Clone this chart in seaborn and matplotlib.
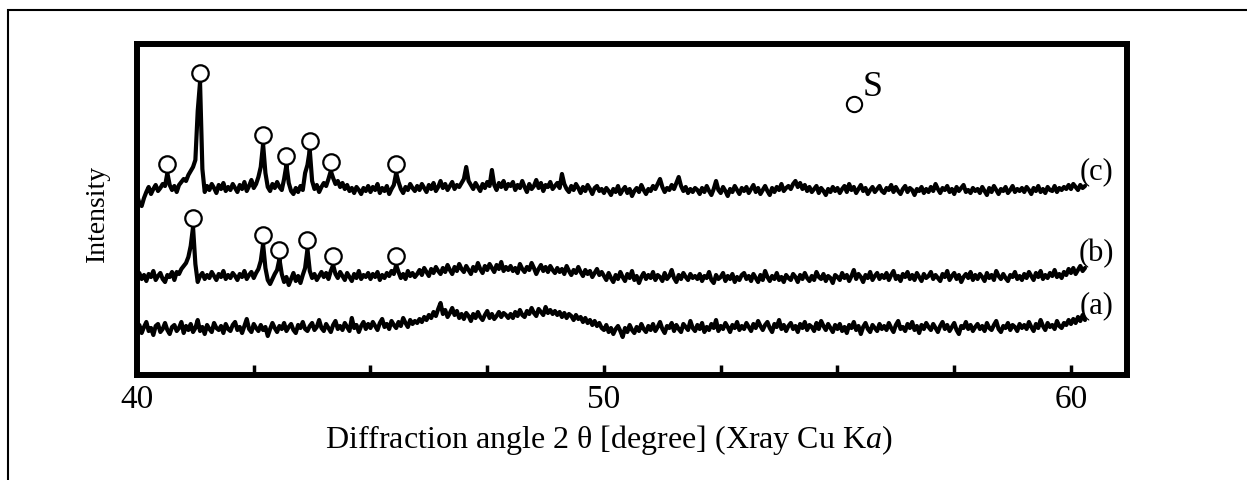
## XRD patterns (a)-(c), 2theta 40-60 deg, Cu Ka

import numpy as np
import pandas as pd
import seaborn as sns
import matplotlib.pyplot as plt
from matplotlib.patches import Rectangle

# scan grid: 40.00 -> 60.30 deg, step 0.05 deg (407 points)
two_theta = np.round(40.0 + 0.05 * np.arange(407), 2)

# intensities (a.u.), one row = 1 degree
intensity_a = [
    45, 50, 42, 48, 53, 44, 47, 40, 49, 51, 43, 46, 52, 45, 41, 48, 50, 44, 47, 53,  # 40
    42, 49, 45, 51, 43, 47, 55, 44, 48, 41, 50, 46, 43, 52, 47, 45, 49, 42, 51, 46,  # 41
    44, 50, 53, 45, 48, 42, 49, 56, 46, 43, 51, 47, 44, 50, 45, 48, 39, 46, 52, 47,  # 42
    43, 49, 46, 52, 44, 48, 51, 45, 42, 50, 47, 53, 46, 44, 49, 52, 45, 48, 55, 47,  # 43
    44, 51, 47, 43, 50, 54, 46, 49, 45, 52, 48, 44, 57, 47, 50, 43, 49, 53, 46, 51,  # 44
    47, 53, 49, 45, 52, 56, 48, 51, 46, 54, 50, 47, 53, 49, 57, 52, 48, 55, 51, 54,  # 45
    52, 56, 53, 58, 55, 60, 57, 63, 59, 66, 72, 61, 65, 58, 62, 67, 60, 64, 57, 61,  # 46
    56, 62, 59, 54, 61, 57, 63, 58, 55, 60, 64, 57, 61, 56, 59, 63, 58, 62, 60, 57,  # 47
    61, 57, 63, 59, 65, 60, 58, 64, 61, 67, 62, 59, 66, 63, 60, 68, 62, 65, 61, 64,  # 48
    60, 63, 58, 62, 57, 61, 59, 55, 60, 56, 58, 53, 57, 52, 55, 50, 54, 49, 52, 47,  # 49
    45, 50, 43, 47, 41, 46, 49, 44, 38, 47, 43, 50, 45, 42, 48, 44, 51, 46, 43, 49,  # 50
    45, 51, 44, 48, 53, 46, 42, 49, 47, 52, 44, 50, 46, 43, 51, 48, 45, 54, 47, 44,  # 51
    50, 46, 52, 43, 48, 45, 51, 47, 55, 44, 49, 46, 52, 48, 43, 50, 47, 53, 45, 49,  # 52
    46, 52, 48, 44, 51, 47, 54, 49, 45, 50, 53, 47, 43, 51, 48, 55, 46, 50, 44, 49,  # 53
    52, 46, 49, 43, 51, 47, 53, 45, 50, 48, 44, 52, 46, 54, 49, 45, 51, 47, 43, 50,  # 54
    46, 51, 44, 48, 42, 50, 47, 53, 45, 49, 41, 48, 52, 46, 43, 50, 47, 44, 51, 46,  # 55
    49, 45, 52, 47, 43, 50, 54, 46, 48, 44, 51, 47, 53, 45, 49, 42, 50, 46, 52, 48,  # 56
    45, 51, 47, 43, 49, 53, 46, 50, 44, 48, 52, 45, 41, 49, 47, 53, 46, 50, 44, 48,  # 57
    51, 46, 49, 44, 52, 47, 45, 50, 54, 46, 43, 49, 47, 52, 45, 50, 48, 44, 51, 47,  # 58
    50, 46, 53, 48, 44, 51, 47, 55, 49, 45, 52, 48, 50, 46, 54, 49, 47, 52, 50, 55,  # 59
    51, 56, 52, 58, 54, 60, 55,                                                      # 60
]

intensity_b = [
    48, 53, 47, 51, 45, 52, 49, 55, 46, 50, 53, 47, 44, 51, 49, 54, 46, 54, 52, 57,  # 40
    60, 63, 69, 80, 99, 62, 44, 50, 53, 47, 51, 48, 54, 50, 46, 52, 49, 55, 47, 51,  # 41
    48, 53, 50, 46, 52, 49, 55, 47, 51, 54, 48, 53, 57, 65, 82, 58, 46, 42, 47, 52,  # 42
    56, 67, 52, 44, 49, 41, 47, 53, 45, 50, 43, 51, 58, 77, 55, 48, 52, 46, 50, 54,  # 43
    49, 53, 47, 55, 61, 52, 48, 54, 50, 46, 53, 49, 45, 52, 48, 55, 47, 51, 49, 53,  # 44
    47, 52, 49, 54, 46, 51, 48, 53, 50, 55, 52, 61, 54, 48, 52, 47, 55, 50, 53, 49,  # 45
    52, 56, 51, 58, 54, 50, 57, 53, 59, 55, 52, 58, 54, 61, 56, 52, 59, 55, 62, 57,  # 46
    54, 60, 56, 52, 59, 55, 63, 57, 53, 60, 56, 62, 58, 54, 61, 57, 64, 55, 59, 56,  # 47
    60, 55, 58, 53, 62, 57, 54, 59, 56, 63, 58, 52, 57, 61, 55, 59, 54, 60, 56, 53,  # 48
    58, 54, 57, 52, 60, 55, 51, 56, 53, 59, 54, 50, 56, 52, 55, 49, 53, 57, 51, 54,  # 49
    50, 46, 53, 48, 44, 51, 47, 54, 49, 45, 52, 48, 55, 46, 50, 43, 49, 53, 47, 51,  # 50
    48, 54, 46, 51, 49, 45, 53, 47, 50, 56, 48, 44, 51, 47, 53, 49, 46, 52, 48, 50,  # 51
    47, 52, 45, 50, 48, 54, 46, 43, 51, 47, 49, 53, 45, 50, 47, 52, 44, 49, 46, 51,  # 52
    53, 47, 50, 45, 52, 48, 44, 51, 46, 55, 49, 45, 50, 47, 53, 46, 49, 44, 51, 48,  # 53
    46, 52, 49, 44, 51, 47, 53, 48, 45, 50, 46, 54, 49, 47, 52, 45, 50, 48, 43, 51,  # 54
    49, 46, 53, 48, 51, 45, 50, 56, 47, 52, 49, 44, 51, 48, 54, 46, 50, 53, 47, 51,  # 55
    48, 53, 46, 51, 55, 47, 50, 45, 52, 49, 54, 47, 51, 46, 53, 49, 45, 52, 48, 50,  # 56
    54, 47, 51, 48, 45, 52, 49, 55, 46, 50, 53, 47, 51, 44, 49, 52, 48, 54, 46, 51,  # 57
    47, 52, 49, 45, 53, 48, 51, 46, 55, 50, 47, 52, 48, 45, 51, 49, 54, 47, 50, 46,  # 58
    52, 48, 54, 50, 46, 53, 49, 55, 47, 51, 48, 53, 50, 56, 49, 52, 48, 54, 51, 57,  # 59
    53, 58, 52, 56, 60, 55, 58,                                                      # 60
]

intensity_c = [
    44, 36, 33, 41, 47, 52, 45, 50, 54, 48, 51, 55, 53, 66, 54, 49, 53, 47, 54, 57,  # 40
    60, 58, 64, 68, 72, 79, 128, 157, 70, 47, 53, 49, 55, 51, 46, 54, 50, 56, 48, 52,  # 41
    49, 55, 51, 47, 54, 50, 57, 48, 53, 59, 51, 55, 62, 72, 95, 66, 52, 48, 55, 51,  # 42
    57, 52, 49, 60, 74, 56, 48, 45, 51, 47, 53, 49, 66, 74, 89, 58, 50, 54, 47, 52,  # 43
    56, 53, 60, 68, 61, 55, 58, 52, 56, 50, 54, 48, 51, 46, 52, 49, 45, 51, 48, 53,  # 44
    47, 52, 49, 55, 46, 51, 48, 53, 45, 50, 54, 66, 57, 50, 46, 52, 49, 55, 51, 48,  # 45
    53, 49, 55, 51, 47, 54, 50, 56, 48, 52, 58, 51, 55, 49, 53, 57, 50, 54, 52, 56,  # 46
    60, 72, 58, 54, 50, 56, 52, 48, 55, 51, 57, 53, 69, 54, 49, 56, 52, 58, 50, 55,  # 47
    53, 57, 49, 54, 51, 58, 52, 47, 55, 50, 53, 59, 51, 56, 48, 54, 52, 57, 50, 53,  # 48
    56, 51, 65, 55, 50, 47, 53, 49, 55, 51, 46, 52, 48, 54, 50, 45, 51, 53, 48, 50,  # 49
    46, 51, 48, 44, 50, 47, 53, 45, 49, 52, 46, 50, 43, 48, 51, 47, 54, 49, 45, 50,  # 50
    48, 53, 50, 55, 60, 52, 47, 51, 49, 54, 50, 56, 62, 53, 48, 52, 46, 50, 47, 51,  # 51
    49, 45, 51, 47, 53, 48, 44, 50, 58, 49, 46, 52, 48, 43, 50, 47, 53, 49, 45, 51,  # 52
    48, 52, 46, 50, 54, 47, 51, 45, 49, 53, 48, 44, 51, 47, 52, 49, 55, 48, 51, 53,  # 53
    50, 55, 58, 52, 56, 50, 54, 48, 52, 47, 50, 53, 46, 51, 48, 44, 50, 47, 52, 48,  # 54
    51, 46, 50, 53, 47, 55, 49, 52, 46, 50, 54, 48, 51, 45, 49, 52, 47, 50, 53, 48,  # 55
    46, 51, 49, 54, 47, 52, 48, 45, 50, 53, 47, 51, 49, 44, 50, 48, 52, 46, 50, 47,  # 56
    52, 48, 55, 50, 46, 51, 49, 53, 47, 50, 45, 52, 48, 51, 54, 47, 49, 46, 51, 48,  # 57
    50, 46, 52, 48, 44, 51, 47, 53, 49, 45, 50, 48, 52, 46, 49, 53, 47, 50, 48, 51,  # 58
    47, 52, 49, 45, 51, 48, 53, 47, 50, 46, 52, 49, 48, 53, 47, 51, 49, 52, 50, 54,  # 59
    50, 55, 52, 49, 54, 51, 53,                                                      # 60
]

sample_labels = ['(a)', '(b)', '(c)']

# peaks marked as phase S (open circles)
peaks_b = [41.20, 42.70, 43.05, 43.65, 44.20, 45.55]
peaks_c = [40.65, 41.35, 42.70, 43.20, 43.70, 44.15, 45.55]

# theme + fonts (set fonts after seaborn style)
sns.set_style('ticks')
plt.rcParams['font.family'] = ['Liberation Serif', 'DejaVu Serif']
plt.rcParams['mathtext.fontset'] = 'custom'
plt.rcParams['mathtext.rm'] = 'Liberation Serif'
plt.rcParams['mathtext.it'] = 'Liberation Serif:italic'
plt.rcParams['text.color'] = 'black'
plt.rcParams['axes.labelcolor'] = 'black'
plt.rcParams['xtick.color'] = 'black'

# stacking offsets for display
offsets = {'(a)': 0, '(b)': 49, '(c)': 136}

df = pd.concat([
    pd.DataFrame({'two_theta': two_theta, 'intensity': vals, 'sample': lab})
    for lab, vals in zip(sample_labels, [intensity_a, intensity_b, intensity_c])
], ignore_index=True)
df['shifted'] = df['intensity'] + df['sample'].map(offsets)

# circle markers sit on top of each marked peak
rows = []
for lab, peaks in [('(b)', peaks_b), ('(c)', peaks_c)]:
    sub = df[df['sample'] == lab].reset_index(drop=True)
    for p in peaks:
        i = np.abs(sub['two_theta'] - p).argmin()
        rows.append({'two_theta': sub.loc[i, 'two_theta'], 'y': sub.loc[i, 'shifted'] + 9})
peak_df = pd.DataFrame(rows)

fig = plt.figure(figsize=(12.47, 4.81), dpi=100)
ax = fig.add_axes([137 / 1247, 1 - 376 / 481, 990 / 1247, 331 / 481])

sns.lineplot(data=df, x='two_theta', y='shifted', hue='sample',
             palette=['black'] * 3, estimator=None, sort=False,
             legend=False, linewidth=3.0, ax=ax)
sns.scatterplot(data=peak_df, x='two_theta', y='y', marker='o', s=140,
                facecolor='white', edgecolor='black', linewidth=1.6,
                zorder=3, ax=ax)

# sample labels at the right end of each trace
for lab in sample_labels:
    end = df[df['sample'] == lab]['shifted'].iloc[-1]
    ax.text(60.55, end + 15, lab, fontsize=22, ha='center', va='center')

# key: o S
ax.plot([55.36], [271], marker='o', ms=11, mfc='white', mec='black', mew=1.5)
ax.text(55.76, 288, 'S', fontsize=26, ha='center', va='center')

ax.set_xlim(40, 61.2)
ax.set_ylim(0, 331)
ax.set_xticks(np.arange(40, 60.1, 2.5))
ax.set_xticklabels(['40', '', '', '', '50', '', '', '', '60'])
ax.set_yticks([])
ax.tick_params(axis='x', direction='in', length=7, width=2.5, labelsize=24, pad=6)
for s in ax.spines.values():
    s.set_linewidth(4.3)
    s.set_color('black')

ax.set_xlabel('Diffraction angle 2 \u03b8 [degree] (Xray Cu K$\\mathit{a}$)', fontsize=23)
ax.xaxis.set_label_coords(0.477, -0.193)
ax.xaxis.label.set_va('center')
ax.set_ylabel('Intensity', fontsize=20)
ax.yaxis.set_label_coords(-0.0404, 0.492)
ax.yaxis.label.set_va('center')

# thin outer frame of the figure panel
fig.add_artist(Rectangle((8 / 1247, -0.1), 1.2, 0.1 + 1 - 11 / 481,
                         transform=fig.transFigure, fill=False,
                         linewidth=1.5, edgecolor='black'))

fig.savefig('out.png', dpi=100)
